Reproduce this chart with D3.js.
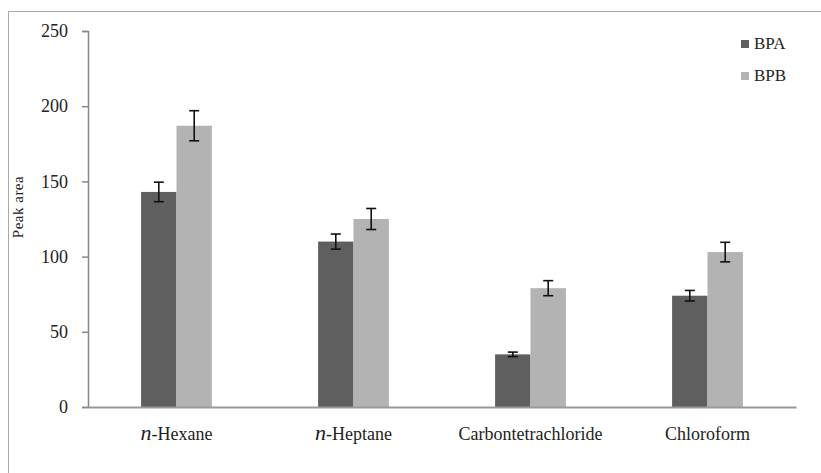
<!DOCTYPE html>
<html>
<head>
<meta charset="utf-8">
<script src="https://cdn.jsdelivr.net/npm/d3@7"></script>
<style>
  body { margin: 0; background: #fff; }
  svg text { font-family: "Times New Roman", "Liberation Serif", "DejaVu Serif", serif; fill: #222; }
</style>
</head>
<body>
<svg width="821" height="473"></svg>
<script>
/* data */
var solvents = ["n-Hexane", "n-Heptane", "Carbon tetrachloride", "Chloroform"]
var series = ["BPA", "BPB"]
var bpa = [143, 110, 35, 74]
var bpaErr = [6.5, 5, 1.5, 3.5]
var bpb = [187, 125, 79, 103]
var bpbErr = [10, 7, 5, 6.5]
var yTicks = [0, 50, 100, 150, 200, 250]

var colors = {"BPA": "#5f5f5f", "BPB": "#b3b3b3"}
var serif = "'Times New Roman', 'Liberation Serif', 'DejaVu Serif', serif"

/* layout */
var plotLeft = 88, plotRight = 796, plotTop = 31, plotBottom = 407

var svg = d3.select("svg")

// outer frame (only top and left edges are visible)
svg.append("rect")
    .attr("x", 8.5).attr("y", 11.5)
    .attr("width", 830).attr("height", 480)
    .attr("fill", "none").attr("stroke", "#aaa").attr("stroke-width", 1)

var x = d3.scaleBand().domain(solvents).range([plotLeft, plotRight]).paddingInner(0.6).paddingOuter(0.3)
var xs = d3.scaleBand().domain(series).range([0, x.bandwidth()])
var y = d3.scaleLinear().domain([0, 250]).range([plotBottom, plotTop])

var flat = []
solvents.forEach(function(s, i) {
    flat.push({s: s, k: "BPA", v: bpa[i], e: bpaErr[i]})
    flat.push({s: s, k: "BPB", v: bpb[i], e: bpbErr[i]})
})

/* y axis */
var yAxis = svg.append("g")
    .attr("transform", "translate(" + plotLeft + ",0)")
    .call(d3.axisLeft(y).tickValues(yTicks).tickSize(6).tickPadding(14))
yAxis.attr("font-family", null)
yAxis.select(".domain").attr("stroke", "#888").attr("stroke-width", 1.5)
yAxis.selectAll(".tick line").attr("stroke", "#888").attr("stroke-width", 1.5)
yAxis.selectAll(".tick text")
    .style("font-family", serif)
    .style("font-size", "18px").attr("fill", "#222")

/* bars */
svg.append("g").selectAll("rect")
    .data(flat)
    .enter()
    .append("rect")
    .attr("x", function(d) { return x(d.s) + xs(d.k) })
    .attr("y", function(d) { return y(d.v) })
    .attr("width", xs.bandwidth())
    .attr("height", function(d) { return y(0) - y(d.v) })
    .attr("fill", function(d) { return colors[d.k] })

/* error bars */
var eb = svg.append("g").attr("stroke", "#111").attr("stroke-width", 1.6)
flat.forEach(function(d) {
    var cx = x(d.s) + xs(d.k) + xs.bandwidth() / 2
    eb.append("line").attr("x1", cx).attr("x2", cx)
        .attr("y1", y(d.v + d.e)).attr("y2", y(d.v - d.e))
    eb.append("line").attr("x1", cx - 5).attr("x2", cx + 5)
        .attr("y1", y(d.v + d.e)).attr("y2", y(d.v + d.e))
    eb.append("line").attr("x1", cx - 5).attr("x2", cx + 5)
        .attr("y1", y(d.v - d.e)).attr("y2", y(d.v - d.e))
})

/* x axis */
var xAxis = svg.append("g")
    .attr("transform", "translate(0," + plotBottom + ")")
    .call(d3.axisBottom(x).tickSize(0).tickFormat(""))
xAxis.select(".domain").attr("stroke", "#999").attr("stroke-width", 2)

var labels = svg.append("g").selectAll("text")
    .data(solvents)
    .enter()
    .append("text")
    .attr("x", function(d) { return x(d) + x.bandwidth() / 2 })
    .attr("y", 440)
    .attr("text-anchor", "middle")
    .style("font-family", serif)
    .style("font-size", "18px")
labels.each(function(d) {
    var t = d3.select(this)
    if (d.indexOf("n-") == 0) {
        t.append("tspan").text("n").style("font-style", "italic").style("font-size", "22px")
        t.append("tspan").text("-" + d.slice(2))
    } else {
        t.text(d == "Carbon tetrachloride" ? "Carbontetrachloride" : d)
    }
})

/* y title */
svg.append("text")
    .attr("transform", "translate(23,207) rotate(-90)")
    .attr("text-anchor", "middle")
    .style("font-family", serif)
    .style("font-size", "15px")
    .style("letter-spacing", "0.5px")
    .text("Peak  area")

/* legend */
var legend = svg.append("g").selectAll("g")
    .data(series)
    .enter()
    .append("g")
    .attr("transform", function(d, i) { return "translate(741," + (40 + i * 32) + ")" })
legend.append("rect")
    .attr("width", 8).attr("height", 8)
    .attr("fill", function(d) { return colors[d] })
legend.append("text")
    .attr("x", 13).attr("y", 9)
    .style("font-family", serif)
    .style("font-size", "17px")
    .text(function(d) { return d })
</script>
</body>
</html>
